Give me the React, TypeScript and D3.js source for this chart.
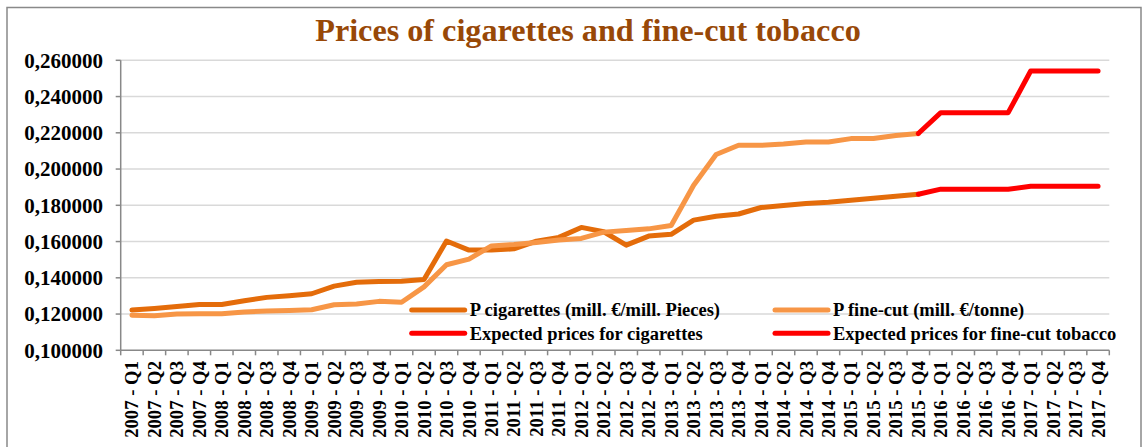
import React from "react";
import * as d3 from "d3";

const years = [2007, 2008, 2009, 2010, 2011, 2012, 2013, 2014, 2015, 2016, 2017];
const quarters = ["Q1", "Q2", "Q3", "Q4"];
const categories: string[] = years.flatMap((y) => quarters.map((q) => `${y} - ${q}`));

// Actual prices (2007 Q1 .. 2015 Q4)
const cigarettes = [
  0.1222, 0.1231, 0.1242, 0.1253, 0.1253, 0.1273, 0.1292, 0.1301,
  0.1312, 0.1354, 0.1375, 0.138, 0.1381, 0.1391, 0.1603, 0.1553,
  0.1553, 0.156, 0.1602, 0.1623, 0.1678, 0.1654, 0.158, 0.163,
  0.164, 0.1718, 0.174, 0.1752, 0.1788, 0.1799, 0.181, 0.1817,
  0.1828, 0.1839, 0.185, 0.1861,
];
const fineCut = [
  0.1193, 0.1191, 0.12, 0.1202, 0.1202, 0.1211, 0.1217, 0.122,
  0.1224, 0.1251, 0.1255, 0.127, 0.1265, 0.135, 0.1472, 0.1503,
  0.1576, 0.1584, 0.1595, 0.1608, 0.1617, 0.1652, 0.1661, 0.167,
  0.1689, 0.1911, 0.208, 0.2131, 0.2131, 0.2138, 0.2149, 0.2149,
  0.2168, 0.2168, 0.2185, 0.2196,
];
// Expected prices (2015 Q4 .. 2017 Q4)
const expectedStart = 35;
const expectedCigarettes = [0.1861, 0.1889, 0.1889, 0.1889, 0.1889, 0.1905, 0.1905, 0.1905, 0.1905];
const expectedFineCut = [0.2196, 0.2311, 0.2311, 0.2311, 0.2311, 0.2541, 0.2541, 0.2541, 0.2541];

const yTicks = [0.1, 0.12, 0.14, 0.16, 0.18, 0.2, 0.22, 0.24, 0.26];

const seriesNames = [
  "P cigarettes (mill. €/mill. Pieces)",
  "P fine-cut (mill. €/tonne)",
  "Expected prices for cigarettes",
  "Expected prices for fine-cut tobacco",
];
const seriesColors = ["#E46C0A", "#F79646", "#FF0000", "#FF0000"];

const W = 1148;
const H = 447;
const plot = { left: 120.7, right: 1109.3, top: 60.3, bottom: 350.3 };
const FONT = "'Liberation Serif', 'Times New Roman', serif";

export default function App() {
  const x = d3
    .scaleBand<string>()
    .domain(categories)
    .range([plot.left, plot.right])
    .paddingInner(0)
    .paddingOuter(0);
  const y = d3.scaleLinear().domain([0.1, 0.26]).range([plot.bottom, plot.top]);
  const cx = (i: number) => (x(categories[i]) as number) + x.bandwidth() / 2;

  const line = d3
    .line<[number, number]>()
    .x((d) => cx(d[0]))
    .y((d) => y(d[1]));

  const series: [number, number][][] = [
    cigarettes.map((v, i) => [i, v]),
    fineCut.map((v, i) => [i, v]),
    expectedCigarettes.map((v, i) => [i + expectedStart, v]),
    expectedFineCut.map((v, i) => [i + expectedStart, v]),
  ];

  const legendItems = [
    { col: 0, row: 0, s: 0 },
    { col: 1, row: 0, s: 1 },
    { col: 0, row: 1, s: 2 },
    { col: 1, row: 1, s: 3 },
  ];
  const legendCols = [411.7, 775];
  const legendRows = [310, 333.3];

  const boundaries = d3.range(categories.length + 1).map((i) => plot.left + i * x.bandwidth());

  return (
    <svg
      width={W}
      height={H}
      style={{ position: "absolute", left: 0, top: 0, background: "#fff" }}
      fontFamily={FONT}
    >
      <rect x={7} y={7.5} width={1134} height={460} fill="#fff" stroke="#898989" strokeWidth={1.5} />
      <text
        x={588}
        y={41}
        textAnchor="middle"
        fontSize={32.2}
        fontWeight="bold"
        fill="#984807"
      >
        Prices of cigarettes and fine-cut tobacco
      </text>

      {/* gridlines */}
      {yTicks.slice(1).map((t) => (
        <line key={t} x1={plot.left} x2={plot.right} y1={y(t)} y2={y(t)} stroke="#D9D9D9" strokeWidth={1.5} />
      ))}

      {/* y axis */}
      <line x1={plot.left} x2={plot.left} y1={plot.top} y2={plot.bottom} stroke="#888" strokeWidth={1.5} />
      {yTicks.map((t) => (
        <g key={"yt" + t}>
          <line x1={plot.left - 5} x2={plot.left} y1={y(t)} y2={y(t)} stroke="#888" strokeWidth={1.5} />
          <text
            x={103}
            y={y(t)}
            dy="0.35em"
            textAnchor="end"
            fontSize={21}
            fontWeight="bold"
            fill="#000"
          >
            {d3.format(".6f")(t).replace(".", ",")}
          </text>
        </g>
      ))}

      {/* x axis */}
      <line x1={plot.left} x2={plot.right} y1={plot.bottom} y2={plot.bottom} stroke="#888" strokeWidth={1.5} />
      {boundaries.map((bx, i) => (
        <line key={"xt" + i} x1={bx} x2={bx} y1={plot.bottom} y2={plot.bottom + 5} stroke="#888" strokeWidth={1.5} />
      ))}
      {categories.map((c, i) => (
        <text
          key={c}
          transform={`translate(${cx(i)},${361}) rotate(-90)`}
          dy="0.35em"
          textAnchor="end"
          fontSize={18.7}
          fontWeight="bold"
          fill="#000"
        >
          {c}
        </text>
      ))}

      {/* series */}
      {series.map((d, k) => (
        <path
          key={"s" + k}
          d={line(d) as string}
          fill="none"
          stroke={seriesColors[k]}
          strokeWidth={5}
          strokeLinecap="round"
          strokeLinejoin="round"
        />
      ))}

      {/* legend */}
      {legendItems.map((it) => (
        <g key={"lg" + it.s}>
          <line
            x1={legendCols[it.col]}
            x2={legendCols[it.col] + 53}
            y1={legendRows[it.row]}
            y2={legendRows[it.row]}
            stroke={seriesColors[it.s]}
            strokeWidth={5}
            strokeLinecap="round"
          />
          <text
            x={legendCols[it.col] + 58}
            y={legendRows[it.row]}
            dy="0.35em"
            fontSize={18.5}
            fontWeight="bold"
            fill="#000"
          >
            {seriesNames[it.s]}
          </text>
        </g>
      ))}
    </svg>
  );
}
